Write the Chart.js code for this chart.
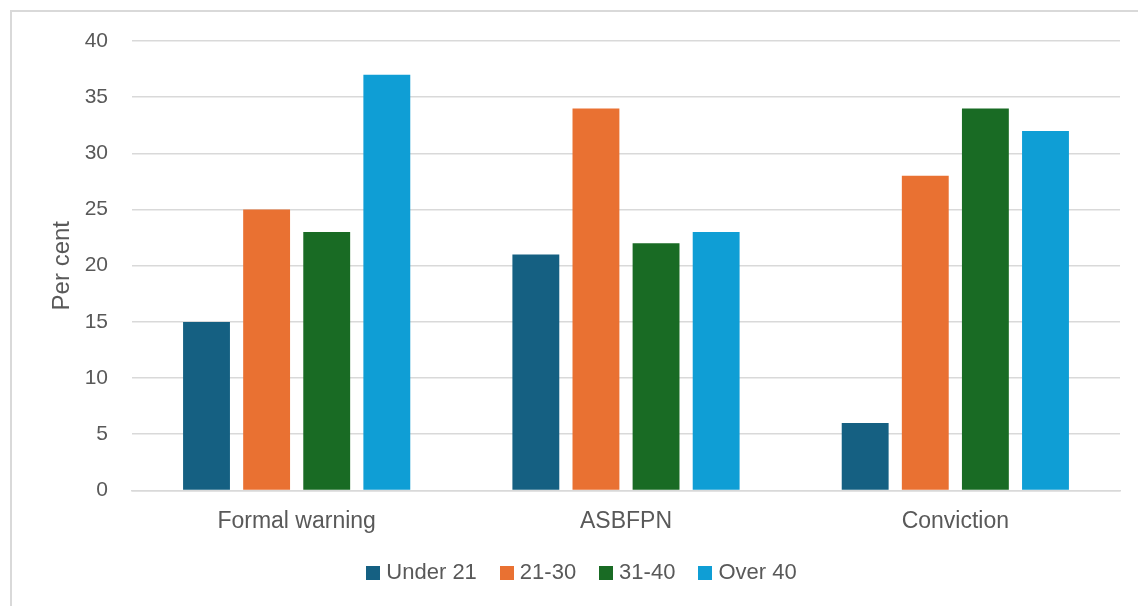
<!DOCTYPE html>
<html>
<head>
<meta charset="utf-8">
<script src="https://cdn.jsdelivr.net/npm/chart.js@4.4.1/dist/chart.umd.min.js"></script>
<style>
    html, body { margin: 0; padding: 0; background: #ffffff; overflow: hidden; }
    #frame {
        position: absolute; left: 10px; top: 10px; width: 1140px; height: 610px;
        border-left: 2px solid #d9d9d9; border-top: 2px solid #d9d9d9;
    }
    #wrap { position: absolute; left: 0; top: 0; width: 1138px; height: 606px; }
</style>
</head>
<body>
<div id="frame"></div>
<div id="wrap"><canvas id="chart"></canvas></div>
<script>
// Data
const categories = ['Formal warning', 'ASBFPN', 'Conviction'];
const seriesNames = ['Under 21', '21-30', '31-40', 'Over 40'];
const under21 = [15, 21, 6];
const age21to30 = [25, 34, 28];
const age31to40 = [23, 22, 34];
const over40 = [37, 23, 32];
const yTicks = [0, 5, 10, 15, 20, 25, 30, 35, 40];

const colors = ['#156082', '#e97132', '#196b24', '#0f9ed5'];
const textColor = '#595959';
const gridColor = '#d9d9d9';
const fontFamily = "'Liberation Sans', Arial, sans-serif";

const seriesValues = [under21, age21to30, age31to40, over40];

// small square swatches for the legend (keeps the box close to its text)
function swatch(color) {
    const c = document.createElement('canvas');
    c.width = 14;
    c.height = 14;
    const g = c.getContext('2d');
    g.fillStyle = color;
    g.fillRect(0, 0, 14, 14);
    return c;
}
const swatches = colors.map(swatch);

new Chart(document.getElementById('chart'), {
    type: 'bar',
    data: {
        labels: categories,
        datasets: seriesNames.map((name, i) => ({
            label: name,
            data: seriesValues[i],
            backgroundColor: colors[i],
            borderWidth: 0,
            categoryPercentage: 0.73,
            barPercentage: 0.78
        }))
    },
    options: {
        responsive: true,
        maintainAspectRatio: false,
        animation: false,
        layout: { padding: { left: 48, right: 18, top: 41, bottom: 12 } },
        plugins: {
            legend: {
                position: 'bottom',
                labels: {
                    usePointStyle: true,
                    boxWidth: 4,
                    boxHeight: 14,
                    padding: 28,
                    color: textColor,
                    font: { size: 22, family: fontFamily },
                    generateLabels: chart => {
                        const items = Chart.defaults.plugins.legend.labels.generateLabels(chart);
                        items.forEach((item, i) => { item.pointStyle = swatches[i]; });
                        return items;
                    }
                }
            },
            tooltip: { enabled: false }
        },
        scales: {
            x: {
                grid: { display: false },
                border: { color: gridColor, width: 1.5 },
                afterFit: axis => { axis.height -= 10; },
                ticks: {
                    color: textColor,
                    padding: 9,
                    font: { size: 23, family: fontFamily }
                }
            },
            y: {
                min: 0,
                max: 40,
                afterBuildTicks: axis => { axis.ticks = yTicks.map(v => ({ value: v })); },
                afterFit: axis => { axis.width = 84; },
                grid: { color: gridColor, lineWidth: 1.5, drawTicks: false },
                border: { display: false },
                title: {
                    display: true,
                    text: 'Per cent',
                    color: textColor,
                    padding: { top: 0, bottom: 0 },
                    font: { size: 24, family: fontFamily }
                },
                ticks: {
                    color: textColor,
                    padding: 24,
                    font: { size: 21, family: fontFamily }
                }
            }
        }
    }
});
</script>
</body>
</html>
